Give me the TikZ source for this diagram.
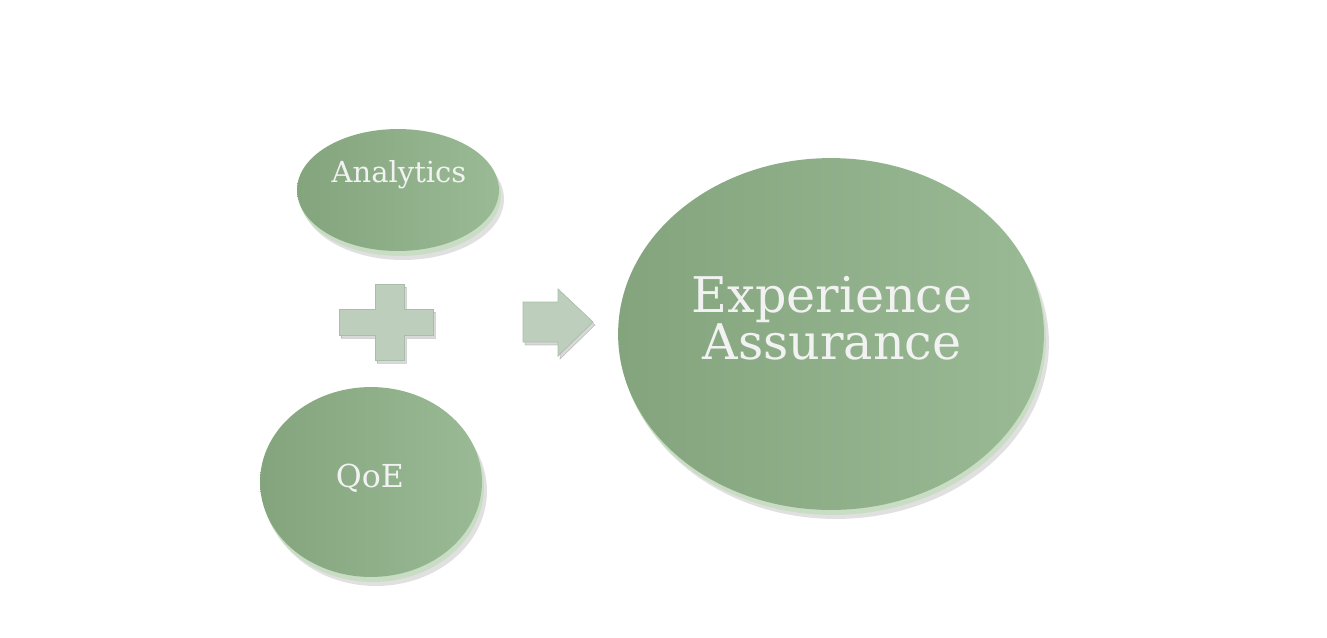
\documentclass[tikz,border=0pt]{standalone}
\usepackage{fontspec}
\setmainfont{DejaVu Serif}
\usetikzlibrary{shapes.geometric}

\definecolor{discdark}{HTML}{84A47E}
\definecolor{disclight}{HTML}{9ABA95}
\definecolor{discrim}{HTML}{C8DDC3}
\definecolor{disctext}{HTML}{F2F2F2}
\definecolor{flatgreen}{HTML}{BDCFBC}
\definecolor{flatedge}{HTML}{A9BEA8}

\tikzset{
  disc/.style={ellipse, inner sep=0pt, left color=discdark, right color=disclight},
  discrim/.style={ellipse, inner sep=0pt, fill=discrim},
  discshadow/.style={ellipse, inner sep=0pt, fill=black, opacity=0.12},
  disctext/.style={text=disctext, align=center, inner sep=0pt},
  flatshape/.style={fill=flatgreen, draw=flatedge, line width=0.4pt},
  flatshadow/.style={fill=black, opacity=0.15}
}

\begin{document}
\begin{tikzpicture}[x=0.02cm,y=-0.02cm]
\useasboundingbox[fill=white] (0,0) rectangle (1327,637);

% discs: name/x/y/rx/ry
\foreach \n/\x/\y/\rx/\ry in {analytics/398/190/101/61, qoe/371/482/111/95, ea/831/334/213/176} {
  \node[discshadow, minimum width=\rx*0.04cm, minimum height=\ry*0.04cm] (\n-shadow) at (\x+5,\y+9) {};
  \node[discrim, minimum width=\rx*0.04cm, minimum height=\ry*0.04cm] (\n-rim) at (\x+2,\y+5) {};
  \node[disc, minimum width=\rx*0.04cm, minimum height=\ry*0.04cm] (\n) at (\x,\y) {};
}

\node[disctext, font=\fontsize{16.5}{18}\selectfont] (analytics-text) at (399,175) {Analytics};
\node[disctext, font=\fontsize{18}{20}\selectfont] (qoe-text) at (370,478) {QoE};
\node[disctext, font=\fontsize{28}{27}\selectfont] (ea-text) at (832,318) {Experience\\Assurance};

% plus
\draw[flatshadow] (341,312) -- (377,312) -- (377,287) -- (406,287) -- (406,312) -- (435,312)
  -- (435,338) -- (406,338) -- (406,363) -- (377,363) -- (377,338) -- (341,338) -- cycle;
\draw[flatshape] (339,309) -- (375,309) -- (375,284) -- (404,284) -- (404,309) -- (433,309)
  -- (433,335) -- (404,335) -- (404,360) -- (375,360) -- (375,335) -- (339,335) -- cycle;

% arrow
\draw[flatshadow] (525,305) -- (560,305) -- (560,292) -- (595,325) -- (560,359) -- (560,345) -- (525,345) -- cycle;
\draw[flatshape] (523,302) -- (558,302) -- (558,289) -- (593,322) -- (558,356) -- (558,342) -- (523,342) -- cycle;
\end{tikzpicture}
\end{document}
